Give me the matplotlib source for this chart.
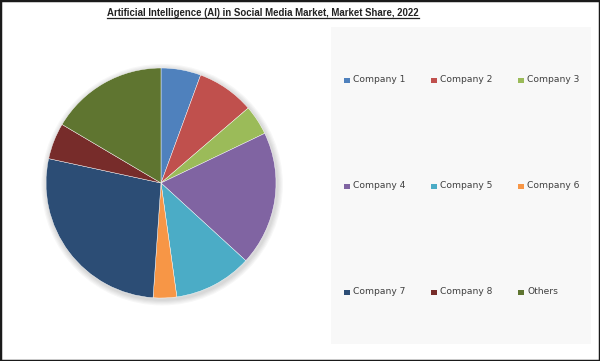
import matplotlib
matplotlib.use("Agg")
from matplotlib import pyplot as plt
from matplotlib.patches import Rectangle, Circle
from matplotlib.lines import Line2D

title = "Artificial Intelligence (AI) in Social Media Market, Market Share, 2022"
labels = ["Company 1", "Company 2", "Company 3", "Company 4", "Company 5",
          "Company 6", "Company 7", "Company 8", "Others"]
shares = [5.6, 8.1, 4.2, 18.9, 11.0, 3.3, 27.3, 5.1, 16.5]
colors = ["#4F81BD", "#C0504D", "#9BBB59", "#8064A2", "#4BACC6",
          "#F79646", "#2C4D75", "#772C2A", "#5F7530"]

W, H = 600, 361
fig = plt.figure(figsize=(W / 100, H / 100), dpi=100)
fig.patch.set_facecolor("white")

# outer black frame
fig.patches.append(Rectangle((0, 0), 1, 1, transform=fig.transFigure,
                             fill=False, edgecolor="#1a1a1a", linewidth=2.5))

# legend panel
px0, py0, px1, py1 = 331, 27, 591, 344
fig.patches.append(Rectangle((px0 / W, 1 - py1 / H), (px1 - px0) / W, (py1 - py0) / H,
                             transform=fig.transFigure, facecolor="#f8f8f8",
                             edgecolor="none", zorder=0))

# pie
cx, cy, r = 161, 183, 115
ax = fig.add_axes([(cx - r) / W, 1 - (cy + r) / H, 2 * r / W, 2 * r / H])
ax.axis("off")

# soft shadow around the pie
for k in range(5):
    ax.add_patch(Circle((0.01, -0.015), 1.0 + 0.01 * (k + 1), color="#000000",
                        alpha=0.03, linewidth=0, zorder=0, clip_on=False))

wedges, _ = ax.pie(shares, colors=colors, startangle=90, counterclock=False, radius=1.0,
                   wedgeprops=dict(linewidth=0.3, edgecolor="white"))
ax.set_xlim(-1.0, 1.0)
ax.set_ylim(-1.0, 1.0)

# title with underline
t = fig.text(263 / W, 1 - 13 / H, title, ha="center", va="center",
             fontsize=6.9, fontweight="bold", family=["Liberation Sans", "DejaVu Sans"],
             color="#222222")
fig.canvas.draw()
bb = t.get_window_extent(renderer=fig.canvas.get_renderer())
uy = (bb.y0 - 0.3) / H
fig.add_artist(Line2D([bb.x0 / W, bb.x1 / W], [uy, uy], transform=fig.transFigure,
                      color="#222222", linewidth=0.9))

# legend entries, row-major
col_x = [344, 431, 518]
row_y = [80, 186, 292]
for i, lab in enumerate(labels):
    x = col_x[i % 3]
    y = row_y[i // 3]
    fig.patches.append(Rectangle((x / W, 1 - (y + 3) / H), 6 / W, 5.5 / H,
                                 transform=fig.transFigure, facecolor=colors[i],
                                 edgecolor="none"))
    fig.text((x + 9) / W, 1 - y / H, lab, ha="left", va="center",
             fontsize=6.6, color="#404040")

fig.savefig("out.png", dpi=100, facecolor="white")
